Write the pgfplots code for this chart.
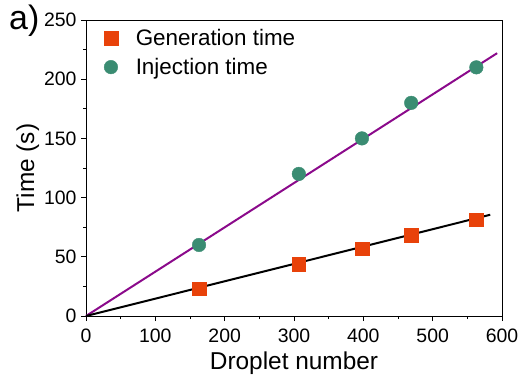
\documentclass[border=0pt]{standalone}
\usepackage{pgfplots}
\pgfplotsset{compat=1.18}
\usepackage{fontspec}
\setmainfont{Liberation Sans}
\definecolor{gen}{HTML}{E8420A}
\definecolor{inj}{HTML}{3A8C72}
\definecolor{fitp}{HTML}{8B0A8B}
\begin{document}
\begin{tikzpicture}[x=1bp,y=1bp]
\path[use as bounding box] (0,0) rectangle (531,385);
\begin{axis}[
  at={(86bp,69bp)}, anchor=south west,
  width=416bp, height=296bp, scale only axis,
  xmin=0, xmax=600, ymin=0, ymax=250,
  xtick={0,100,...,600}, ytick={0,50,...,250},
  minor x tick num=1, minor y tick num=1,
  tick align=outside, axis line style={line width=0.8pt},
  major tick length=5bp, minor tick length=3bp,
  xtick pos=bottom, ytick pos=left,
  tick style={black, line width=0.7pt},
  /pgf/number format/assume math mode=true,
  ticklabel style={font=\fontsize{19.5}{21}\selectfont},
  xticklabel style={yshift=-4bp},
  yticklabel style={xshift=-1bp},
  xlabel={Droplet number}, ylabel={Time (s)},
  label style={font=\fontsize{24.5}{26}\selectfont},
  xlabel style={yshift=-3bp},
  ylabel style={yshift=-2bp},
  legend style={at={(0.036,0.982)}, anchor=north west, draw=none, fill=none,
    font=\fontsize{22.5}{24}\selectfont, row sep=7bp,
    /tikz/every odd column/.append style={column sep=16bp}},
  legend cell align=left,
  clip=false,
]
\addplot[fitp, line width=2pt, forget plot] coordinates {(0,0) (593,222)};
\addplot[black, line width=2pt, forget plot] coordinates {(0,0) (583,85.5)};
\addplot[only marks, mark=square*, mark size=6.8bp, color=gen] coordinates {
(163,23) (307,44) (398,57) (469,68) (563,81.5)};
\addlegendentry{Generation time}
\addplot[only marks, mark=*, mark size=6.8bp, color=inj] coordinates {
(163,60) (307,120) (398,150) (469,180) (563,210)};
\addlegendentry{Injection time}
\end{axis}
\node[anchor=north west, font=\fontsize{34}{36}\selectfont, inner sep=0] at (9,380) {a)};
\end{tikzpicture}
\end{document}
